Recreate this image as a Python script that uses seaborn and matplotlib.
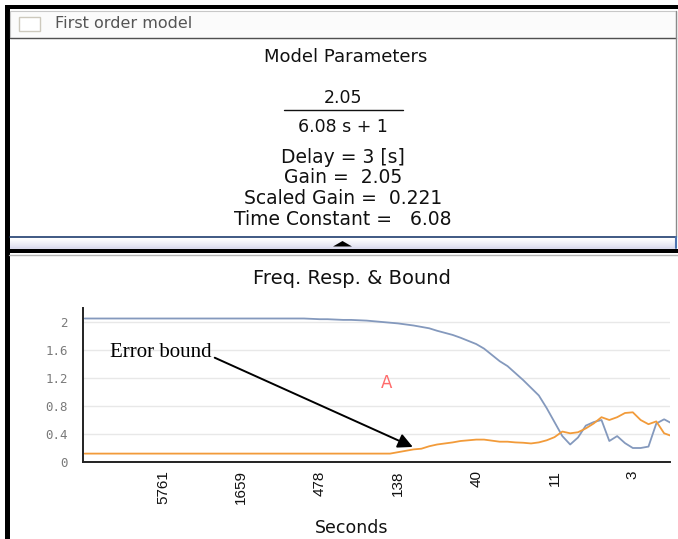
import numpy as np
import pandas as pd
import matplotlib
matplotlib.use("Agg")
import matplotlib.pyplot as plt
from matplotlib import font_manager
from matplotlib.patches import Rectangle, Polygon
from matplotlib.lines import Line2D
import seaborn as sns

# ---- model summary ----
model_title = "First order model"
panel_heading = "Model Parameters"
numerator = "2.05"
denominator = "6.08 s + 1"
param_lines = ["Delay = 3 [s]", "Gain =  2.05", "Scaled Gain =  0.221", "Time Constant =   6.08"]

# ---- frequency response chart ----
chart_title = "Freq. Resp. & Bound"
x_label = "Seconds"
tick_index = [10, 20, 30, 40, 50, 60, 70]
tick_labels = ["5761", "1659", "478", "138", "40", "11", "3"]
y_ticks = [0, 0.4, 0.8, 1.2, 1.6, 2]
y_tick_labels = ["0", "0.4", "0.8", "1.2", "1.6", "2"]

magnitude = (
    [2.05] * 27
    + [2.05, 2.05, 2.045, 2.04, 2.04, 2.035, 2.03, 2.03, 2.025, 2.02, 2.01, 2.0, 1.99,
       1.98, 1.965, 1.95, 1.93, 1.91, 1.875, 1.845, 1.815, 1.775, 1.73, 1.685,
       1.62, 1.53, 1.44, 1.37, 1.27, 1.17, 1.06, 0.95, 0.77, 0.57,
       0.37, 0.25, 0.35, 0.52, 0.57, 0.60, 0.30, 0.37, 0.27, 0.20,
       0.20, 0.22, 0.55, 0.61, 0.55]
)
error_bound = (
    [0.12] * 40
    + [0.14, 0.16, 0.18, 0.19, 0.225, 0.25, 0.265, 0.28, 0.30, 0.31,
       0.32, 0.32, 0.305, 0.29, 0.29, 0.28, 0.275, 0.265, 0.28, 0.31,
       0.355, 0.435, 0.41, 0.425, 0.48, 0.55, 0.64, 0.60, 0.64, 0.70,
       0.71, 0.60, 0.54, 0.58, 0.41, 0.37]
)
n_points = min(len(magnitude), len(error_bound))
df = pd.DataFrame({
    "idx": np.arange(n_points),
    "mag": magnitude[:n_points],
    "bound": error_bound[:n_points],
})

W, H = 678, 539
sns.set_style("white")
plt.rcParams["font.family"] = ["DejaVu Sans"]
names = {f.name for f in font_manager.fontManager.ttflist}
narrow = "Liberation Sans Narrow" if "Liberation Sans Narrow" in names else "Liberation Sans"

fig = plt.figure(figsize=(W / 100, H / 100), dpi=100)
fig.patch.set_facecolor("white")


def fxy(x, y):
    return x / W, 1 - y / H


def rect(x0, y0, x1, y1, **kw):
    fig.add_artist(Rectangle((x0 / W, 1 - y1 / H), (x1 - x0) / W, (y1 - y0) / H,
                             transform=fig.transFigure, **kw))


def hline(x0, x1, y, **kw):
    fig.add_artist(Line2D([x0 / W, x1 / W], [1 - y / H, 1 - y / H],
                          transform=fig.transFigure, **kw))


def vline(x, y0, y1, **kw):
    fig.add_artist(Line2D([x / W, x / W], [1 - y0 / H, 1 - y1 / H],
                          transform=fig.transFigure, **kw))


# ---- window chrome ----
rect(5, 5, 678, 9, facecolor="black", edgecolor="none")           # top frame
rect(5, 5, 9.5, 539, facecolor="black", edgecolor="none")         # left frame
rect(10, 11, 676, 38, facecolor="#fbfbfb", edgecolor="#c8c8c8", lw=0.8)
hline(10, 676, 38, color="#505050", lw=1.0)
vline(676, 11, 237, color="#8a8a8a", lw=1.0)
rect(19, 17, 40, 31, facecolor="white", edgecolor="#cdc9bd", lw=1.0)
fig.text(*fxy(55, 24), model_title, ha="left", va="center",
         fontsize=11.5, color="#555555")

# splitter bar with gradient
top, bot = 237.5, 248.5
steps = 11
for k in range(steps):
    t = k / (steps - 1)
    c = (1 - 0.14 * t, 1 - 0.14 * t, 1 - 0.07 * t)
    y0 = top + (bot - top) * k / steps
    rect(10, y0, 676, y0 + (bot - top) / steps + 0.3, facecolor=c, edgecolor="none")
hline(10, 676, 237, color="#1f3d6e", lw=1.2)
vline(676, 237, 248, color="#4d74b0", lw=1.5)
fig.add_artist(Polygon([fxy(333, 246.5), fxy(352, 246.5), fxy(342.5, 241)],
                       closed=True, transform=fig.transFigure,
                       facecolor="black", edgecolor="none"))
rect(5, 249, 678, 252.5, facecolor="black", edgecolor="none")
hline(9, 678, 255, color="#b4b4b4", lw=1.0)

# ---- model parameter text ----
fig.text(*fxy(346, 57), panel_heading, ha="center", va="center", fontsize=13, color="#111111")
fig.text(*fxy(343, 98), numerator, ha="center", va="center", fontsize=12.5, color="#111111")
hline(284, 403, 110, color="#111111", lw=1.0)
fig.text(*fxy(343, 127), denominator, ha="center", va="center", fontsize=12.5, color="#111111")
for k, line in enumerate(param_lines):
    fig.text(*fxy(343, 157 + 20.8 * k), line, ha="center", va="center",
             fontsize=13.5, color="#111111")

# ---- chart ----
ax_l, ax_r, ax_t, ax_b = 83, 670, 308, 462
ax = fig.add_axes([ax_l / W, 1 - ax_b / H, (ax_r - ax_l) / W, (ax_b - ax_t) / H])
ax.set_facecolor("white")

sns.lineplot(data=df, x="idx", y="mag", ax=ax, color="#8499bd", lw=1.3)
sns.lineplot(data=df, x="idx", y="bound", ax=ax, color="#f29b3a", lw=1.3)

ax.set_xlim(-0.22, 74.75)
ax.set_ylim(0, 2.2)
ax.set_yticks(y_ticks)
ax.set_yticklabels(y_tick_labels, family="DejaVu Sans Mono", fontsize=9, color="#7a7a7a")
ax.set_xticks(tick_index)
ax.set_xticklabels(tick_labels, rotation=90, family=narrow, fontsize=11, color="#111111")
ax.tick_params(axis="both", length=0)
ax.tick_params(axis="y", pad=11)
ax.tick_params(axis="x", pad=6)
ax.grid(axis="y", color="#e8e8e8", lw=1.0)
ax.set_axisbelow(True)
for side in ["top", "right"]:
    ax.spines[side].set_visible(False)
for side in ["left", "bottom"]:
    ax.spines[side].set_color("#222222")
    ax.spines[side].set_linewidth(1.4)

ax.set_xlabel(x_label, fontsize=12.5, color="#111111")
ax.xaxis.set_label_coords((352 - ax_l) / (ax_r - ax_l), (ax_b - 528) / (ax_b - ax_t))
ax.xaxis.label.set_va("center")
ax.set_ylabel("")
ax.text((352 - ax_l) / (ax_r - ax_l), (ax_b - 279) / (ax_b - ax_t), chart_title,
        transform=ax.transAxes, ha="center", va="center", fontsize=14, color="#111111")

# series marker glyph
ax.text(38.5, 1.13, "A", ha="center", va="center", fontsize=12, color="#ff6b6b")

# annotation for the error bound curve
ax.text(3.2, 1.50, "Error bound", family="Liberation Serif", fontsize=15,
        ha="left", va="baseline", color="black")
ax.annotate("", xy=(41.9, 0.215), xytext=(16.6, 1.49),
            arrowprops=dict(arrowstyle="-|>", color="black", lw=1.4,
                            mutation_scale=22, shrinkA=0, shrinkB=0))

fig.savefig("out.png", dpi=100, facecolor="white")
